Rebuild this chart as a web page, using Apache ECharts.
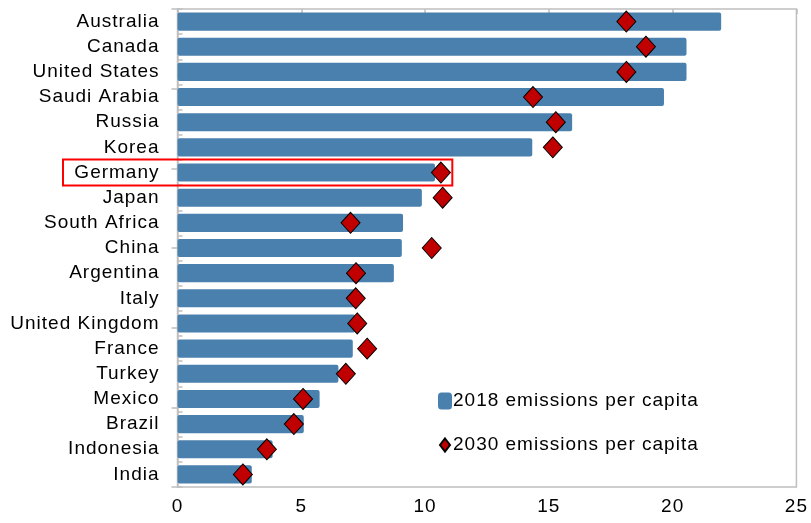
<!DOCTYPE html>
<html>
<head>
<meta charset="utf-8">
<script src="https://cdn.jsdelivr.net/npm/echarts@6/dist/echarts.min.js"></script>
<style>
html,body{margin:0;padding:0;background:#fff;}
#chart{width:811px;height:523px;}
</style>
</head>
<body>
<div id="chart"></div>
<script>
const categories = ["Australia","Canada","United States","Saudi Arabia","Russia","Korea","Germany","Japan","South Africa","China","Argentina","Italy","United Kingdom","France","Turkey","Mexico","Brazil","Indonesia","India"];
const emissions2018 = [21.96,20.56,20.56,19.65,15.94,14.33,10.40,9.87,9.11,9.06,8.74,7.18,7.18,7.08,6.50,5.74,5.10,3.84,3.00];
const emissions2030 = [18.13,18.92,18.13,14.36,15.28,15.16,10.64,10.71,6.99,10.27,7.21,7.20,7.26,7.66,6.80,5.07,4.70,3.61,2.64];
const xTicks = [0,5,10,15,20,25];
const highlighted = "Germany";

// slightly spaced lettering like the reference's text rendering
(function(){
  const proto = CanvasRenderingContext2D.prototype;
  const desc = Object.getOwnPropertyDescriptor(proto, 'font');
  if (!desc || !('letterSpacing' in proto)) return;
  Object.defineProperty(proto, 'font', {
    configurable:true,
    get(){ return desc.get.call(this); },
    set(v){ desc.set.call(this, v); try { this.letterSpacing = '1px'; } catch(e){} }
  });
})();

const FONT = "'Liberation Sans', Arial, sans-serif";
const chart = echarts.init(document.getElementById('chart'), null, {renderer:'canvas'});
const option = {
  animation:false,
  backgroundColor:'#fff',
  grid:{left:177.5, right:14, top:9, bottom:36, show:true, borderColor:'#bfbfbf', borderWidth:1.5, containLabel:false},
  legend:{
    orient:'vertical', left:432, top:386, itemWidth:14, itemHeight:17, itemGap:24,
    textStyle:{fontFamily:FONT, fontSize:19, color:'#000', padding:[0,0,0,-4]},
    data:[
      {name:'2018 emissions per capita', icon:'roundRect'},
      {name:'2030 emissions per capita', icon:'path://M0,0 M14,17 M7,2 L12,8.5 L7,15 L2,8.5 Z'}
    ]
  },
  xAxis:[
    {type:'value', min:xTicks[0], max:xTicks[xTicks.length-1], interval:5, position:'bottom',
     axisLine:{show:false}, axisTick:{show:false}, splitLine:{show:false},
     axisLabel:{fontFamily:FONT, fontSize:19, color:'#000', margin:10}},
    {type:'value', min:0, max:25, interval:5, position:'top',
     axisLine:{show:false}, axisTick:{show:true, inside:true, length:5, lineStyle:{color:'#bfbfbf', width:1.5}},
     axisLabel:{show:false}, splitLine:{show:false}}
  ],
  yAxis:[
    {type:'category', data:categories, inverse:true, position:'left',
     axisLine:{show:true, lineStyle:{color:'#bfbfbf', width:1.5}},
     axisTick:{show:true, inside:true, length:5, interval:0, lineStyle:{color:'#bfbfbf', width:1.5}},
     axisLabel:{fontFamily:FONT, fontSize:19, color:'#000', margin:18, interval:0}},
    {type:'value', min:0, max:6, interval:1, position:'right',
     axisLine:{show:false}, axisTick:{show:true, inside:true, length:6, lineStyle:{color:'#bfbfbf', width:1.5}},
     axisLabel:{show:false}, splitLine:{show:false}}
  ],
  series:[
    {name:'2018 emissions per capita', type:'bar', data:emissions2018, xAxisIndex:0, yAxisIndex:0,
     barWidth:'72%', itemStyle:{color:'#4a80ae', borderRadius:2}},
    {name:'2030 emissions per capita', type:'scatter', data:emissions2030.map((v,i)=>[v,categories[i]]), xAxisIndex:0, yAxisIndex:0,
     symbol:'diamond', symbolSize:[19,21], z:5,
     itemStyle:{color:'#c00000', borderColor:'#000', borderWidth:1, opacity:1}}
  ]
};
chart.setOption(option);

// Highlight box around the Germany row
const yc = chart.convertToPixel({yAxisIndex:0}, highlighted);
const xr = chart.convertToPixel({xAxisIndex:0}, 11.1);
chart.setOption({graphic:[{
  type:'rect', shape:{x:63, y:yc-13, width:xr-63, height:26},
  style:{fill:'none', stroke:'#ff0000', lineWidth:2}, z:10
}]});
</script>
</body>
</html>
